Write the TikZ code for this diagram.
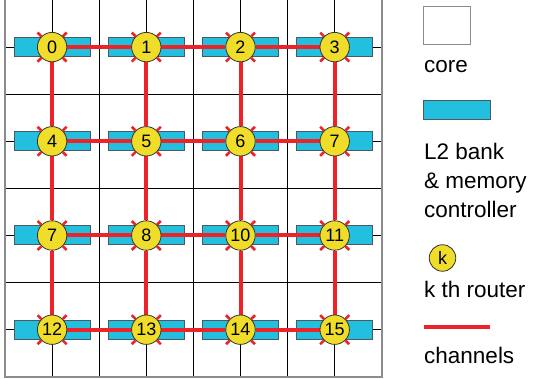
\documentclass[tikz,border=0pt]{standalone}
\usepackage{fontspec}
\setmainfont{Liberation Sans}
\usetikzlibrary{positioning,calc}
\definecolor{bankfill}{HTML}{22C0DE}
\definecolor{bankline}{HTML}{4A5A60}
\definecolor{routerfill}{HTML}{F0DD2A}
\definecolor{chanred}{HTML}{EE2229}
\definecolor{framegray}{HTML}{8C8C8C}
\pgfdeclarelayer{grid}
\pgfdeclarelayer{banks}
\pgfdeclarelayer{chan}
\pgfsetlayers{grid,banks,chan,main}
\tikzset{
  gridline/.style={draw=black, line width=0.9pt},
  frameline/.style={draw=framegray, line width=1.6pt},
  bank/.style={draw=bankline, fill=bankfill, line width=1pt, minimum width=76pt,
               minimum height=19pt, inner sep=0pt},
  router/.style={circle, draw=black!80, fill=routerfill, line width=0.8pt,
               minimum size=29.4pt, inner sep=0pt, font=\fontsize{18}{18}\selectfont},
  channel/.style={draw=chanred, line width=4pt},
  tick/.style={draw=chanred, line width=2.6pt},
  legtext/.style={font=\fontsize{22.5}{29}\selectfont, anchor=base west, inner sep=0pt},
}
\def\xo{5}
\def\cell{47.1}
\begin{document}
\begin{tikzpicture}[x=1pt,y=-1pt]
  \useasboundingbox (0,0) rectangle (533,379);
  % tile grid and frame
  \begin{pgfonlayer}{grid}
    \foreach \k in {1,...,7}{
      \draw[gridline] ({\xo+\cell*\k},0) -- ({\xo+\cell*\k},{8*\cell});
      \draw[gridline] (\xo,{\cell*\k}) -- ({\xo+8*\cell},{\cell*\k});
    }
    \draw[frameline] (\xo,0) -- (\xo,{8*\cell}) -- ({\xo+8*\cell},{8*\cell}) -- ({\xo+8*\cell},0);
  \end{pgfonlayer}
  % routers with their banks
  \foreach \lab [count=\i from 0] in {0,1,2,3,4,5,6,7,7,8,10,11,12,13,14,15}{
    \pgfmathsetmacro\rx{\xo+\cell+2*\cell*mod(\i,4)}
    \pgfmathsetmacro\ry{\cell+2*\cell*div(\i,4)}
    \node[router] (r\i) at (\rx,\ry) {\lab};
    \begin{pgfonlayer}{banks}
      \node[bank] (b\i) at (\rx,\ry) {};
    \end{pgfonlayer}
  }
  % channels
  \begin{pgfonlayer}{chan}
    \foreach \rw in {0,...,3} \foreach \c in {0,1,2}{
      \pgfmathtruncatemacro\a{4*\rw+\c}\pgfmathtruncatemacro\b{\a+1}
      \draw[channel] (r\a) -- (r\b);
    }
    \foreach \rw in {0,1,2} \foreach \c in {0,...,3}{
      \pgfmathtruncatemacro\a{4*\rw+\c}\pgfmathtruncatemacro\b{\a+4}
      \draw[channel] (r\a) -- (r\b);
    }
  \end{pgfonlayer}
  \foreach \i in {0,...,15} \foreach \ang in {45,135,225,315}
    \draw[tick] (r\i.\ang) -- ($(r\i.center)!1.36!(r\i.\ang)$);
  % legend
  \node[draw=framegray, line width=1.2pt, fill=white, minimum width=47pt,
        minimum height=37.6pt, inner sep=0pt] (corekey) at (447,25.5) {};
  \node[legtext] (coretxt) at (424,72.7) {core};
  \node[bank, minimum width=66.7pt] (bankkey) at (456.7,110.3) {};
  \node[legtext] (banktxt) at (424,160) {L2 bank};
  \node[legtext] (banktxtb) at (424,189) {\& memory};
  \node[legtext] (banktxtc) at (424,218) {controller};
  \node[router, minimum size=26.5pt] (routerkey) at (442.5,258) {k};
  \node[legtext] (routertxt) at (424,298) {k th router};
  \coordinate (chanA) at (424,326.7);
  \coordinate (chanB) at (490,326.7);
  \draw[channel] (chanA) -- (chanB);
  \node[legtext] (chantxt) at (424,363) {channels};
\end{tikzpicture}
\end{document}
